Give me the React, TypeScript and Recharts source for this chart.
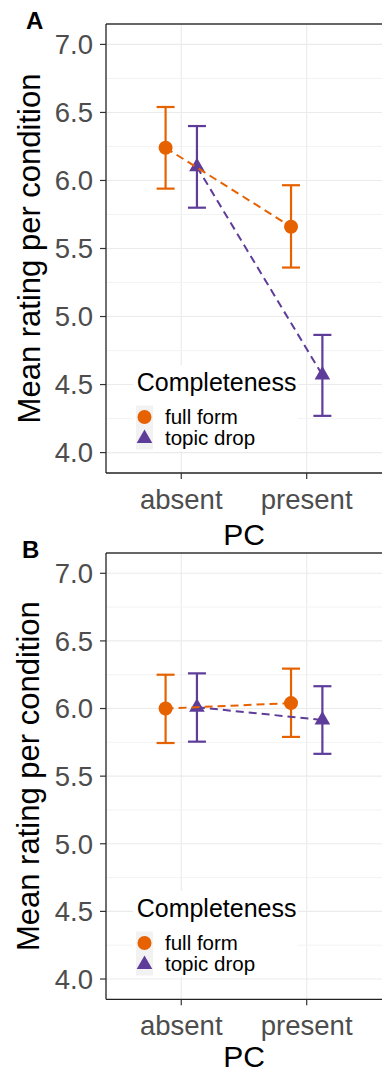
import React from "react";
import {
  CartesianGrid,
  ComposedChart,
  ErrorBar,
  Label,
  Legend,
  Scatter,
  XAxis,
  YAxis,
} from "recharts";

const categories = ["absent", "present"];
const groups = ["full form", "topic drop"];
const xTicks = [1, 2];
const yTicks = [4.0, 4.5, 5.0, 5.5, 6.0, 6.5, 7.0];
const yMinor = [4.25, 4.75, 5.25, 5.75, 6.25, 6.75];

// panel A
const aFullMean = [6.24, 5.66];
const aFullLow = [5.94, 5.36];
const aFullHigh = [6.54, 5.965];
const aTopicMean = [6.1, 4.57];
const aTopicLow = [5.8, 4.27];
const aTopicHigh = [6.4, 4.865];

// panel B
const bFullMean = [6.0, 6.04];
const bFullLow = [5.745, 5.79];
const bFullHigh = [6.25, 6.295];
const bTopicMean = [6.01, 5.915];
const bTopicLow = [5.755, 5.665];
const bTopicHigh = [6.26, 6.165];

const ORANGE = "#E66100";
const PURPLE = "#5E3C99";
const DODGE = 0.125;
// panel is cropped on the right in the original, so the x range runs a bit past the page edge
const X_DOMAIN = [0.4, 2.664];
const Y_DOMAIN = [3.85, 7.15];
const FONT = '"Liberation Sans", Arial, Helvetica, sans-serif';

function toPoints(mean: number[], low: number[], high: number[], shift: number) {
  return mean.map((m, i) => ({
    x: xTicks[i] + shift,
    y: m,
    err: [m - low[i], high[i] - m],
  }));
}

const dotShape = (p: any) => <circle cx={p.cx} cy={p.cy} r={7} fill={ORANGE} />;
const triShape = (p: any) => (
  <polygon
    points={`${p.cx},${p.cy - 9} ${p.cx + 7.8},${p.cy + 4.5} ${p.cx - 7.8},${p.cy + 4.5}`}
    fill={PURPLE}
  />
);

function LegendBox() {
  return (
    <svg width={165} height={86} style={{ display: "block", fontFamily: FONT }}>
      <text x={3.7} y={25.5} fontSize={25} fill="#000">
        Completeness
      </text>
      <rect x={3} y={40.5} width={17} height={44} fill="#F2F2F2" />
      <circle cx={11.5} cy={52} r={7} fill={ORANGE} />
      <polygon points="11.5,64.5 19.3,78 3.7,78" fill={PURPLE} />
      <text x={32} y={59} fontSize={20.5} fill="#000">
        {groups[0]}
      </text>
      <text x={32} y={80} fontSize={20.5} fill="#000">
        {groups[1]}
      </text>
    </svg>
  );
}

function Panel({
  tag,
  tagX,
  height,
  plotBottom,
  titleGap,
  full,
  topic,
}: {
  tag: string;
  tagX: number;
  height: number;
  plotBottom: number;
  titleGap: number;
  full: any[];
  topic: any[];
}) {
  const plotTop = 24;
  const midY = (plotTop + plotBottom) / 2;
  return (
    <ComposedChart
      width={400}
      height={height}
      margin={{ top: plotTop - 1, right: 10, bottom: 0, left: 0 }}
    >
      <CartesianGrid
        stroke="#EBEBEB"
        strokeWidth={1.1}
        horizontalValues={yTicks}
        verticalValues={xTicks}
        syncWithTicks
      />
      <CartesianGrid
        stroke="#F2F2F2"
        strokeWidth={0.9}
        vertical={false}
        horizontalValues={yMinor}
        syncWithTicks
      />
      <XAxis
        type="number"
        dataKey="x"
        domain={X_DOMAIN}
        allowDataOverflow
        ticks={xTicks}
        tickFormatter={(v: number) => categories[xTicks.indexOf(v)]}
        height={height - plotBottom}
        tickSize={6}
        tickMargin={10}
        tick={{ fill: "#4D4D4D", fontSize: 27.5 }}
        tickLine={{ stroke: "#333333", strokeWidth: 1.2 }}
        axisLine={{ stroke: "#222222", strokeWidth: 1.3 }}
      >
        <Label
          content={() => (
            <text
              x={244}
              y={plotBottom + titleGap}
              textAnchor="middle"
              fontSize={30}
              fill="#000"
            >
              PC
            </text>
          )}
        />
      </XAxis>
      {/* top edge of the panel border */}
      <XAxis
        xAxisId="top"
        orientation="top"
        type="number"
        domain={X_DOMAIN}
        allowDataOverflow
        height={1}
        tick={false}
        tickLine={false}
        axisLine={{ stroke: "#333333", strokeWidth: 1.3 }}
      />
      <YAxis
        type="number"
        dataKey="y"
        domain={Y_DOMAIN}
        allowDataOverflow
        ticks={yTicks}
        tickFormatter={(v: number) => v.toFixed(1)}
        width={106}
        tickSize={6}
        tickMargin={7}
        tick={{ fill: "#4D4D4D", fontSize: 27.5 }}
        tickLine={{ stroke: "#333333", strokeWidth: 1.2 }}
        axisLine={{ stroke: "#222222", strokeWidth: 1.3 }}
      >
        <Label
          content={() => (
            <g>
              <text
                x={39.5}
                y={midY}
                transform={`rotate(-90 39.5 ${midY})`}
                textAnchor="middle"
                fontSize={31}
                fill="#000"
              >
                Mean rating per condition
              </text>
              <text x={tagX} y={29} fontSize={24} fontWeight="bold" fill="#000">
                {tag}
              </text>
            </g>
          )}
        />
      </YAxis>
      <Scatter
        name={groups[1]}
        data={topic}
        fill={PURPLE}
        shape={triShape}
        line={{ stroke: PURPLE, strokeWidth: 2, strokeDasharray: "8 5" }}
        lineType="joint"
        isAnimationActive={false}
      >
        <ErrorBar
          dataKey="err"
          direction="y"
          width={9}
          stroke={PURPLE}
          strokeWidth={2.2}
          isAnimationActive={false}
        />
      </Scatter>
      <Scatter
        name={groups[0]}
        data={full}
        fill={ORANGE}
        shape={dotShape}
        line={{ stroke: ORANGE, strokeWidth: 2, strokeDasharray: "8 5" }}
        lineType="joint"
        isAnimationActive={false}
      >
        <ErrorBar
          dataKey="err"
          direction="y"
          width={9}
          stroke={ORANGE}
          strokeWidth={2.2}
          isAnimationActive={false}
        />
      </Scatter>
      <Legend
        layout="vertical"
        align="center"
        verticalAlign="middle"
        wrapperStyle={{
          left: 133,
          top: plotBottom - 108.5,
          width: 165,
          height: 86,
          background: "#fff",
        }}
        content={() => <LegendBox />}
      />
    </ComposedChart>
  );
}

export default function App() {
  const aFull = toPoints(aFullMean, aFullLow, aFullHigh, -DODGE);
  const aTopic = toPoints(aTopicMean, aTopicLow, aTopicHigh, DODGE);
  const bFull = toPoints(bFullMean, bFullLow, bFullHigh, -DODGE);
  const bTopic = toPoints(bTopicMean, bTopicLow, bTopicHigh, DODGE);
  return (
    <div
      style={{
        position: "absolute",
        left: 0,
        top: 0,
        width: 382,
        height: 1072,
        overflow: "hidden",
        background: "#fff",
        fontFamily: FONT,
      }}
    >
      <div style={{ position: "absolute", left: 0, top: 0 }}>
        <Panel
          tag="A"
          tagX={26}
          height={560}
          plotBottom={473}
          titleGap={72}
          full={aFull}
          topic={aTopic}
        />
      </div>
      <div style={{ position: "absolute", left: 0, top: 529 }}>
        <Panel
          tag="B"
          tagX={22}
          height={543}
          plotBottom={470.3}
          titleGap={68}
          full={bFull}
          topic={bTopic}
        />
      </div>
    </div>
  );
}
